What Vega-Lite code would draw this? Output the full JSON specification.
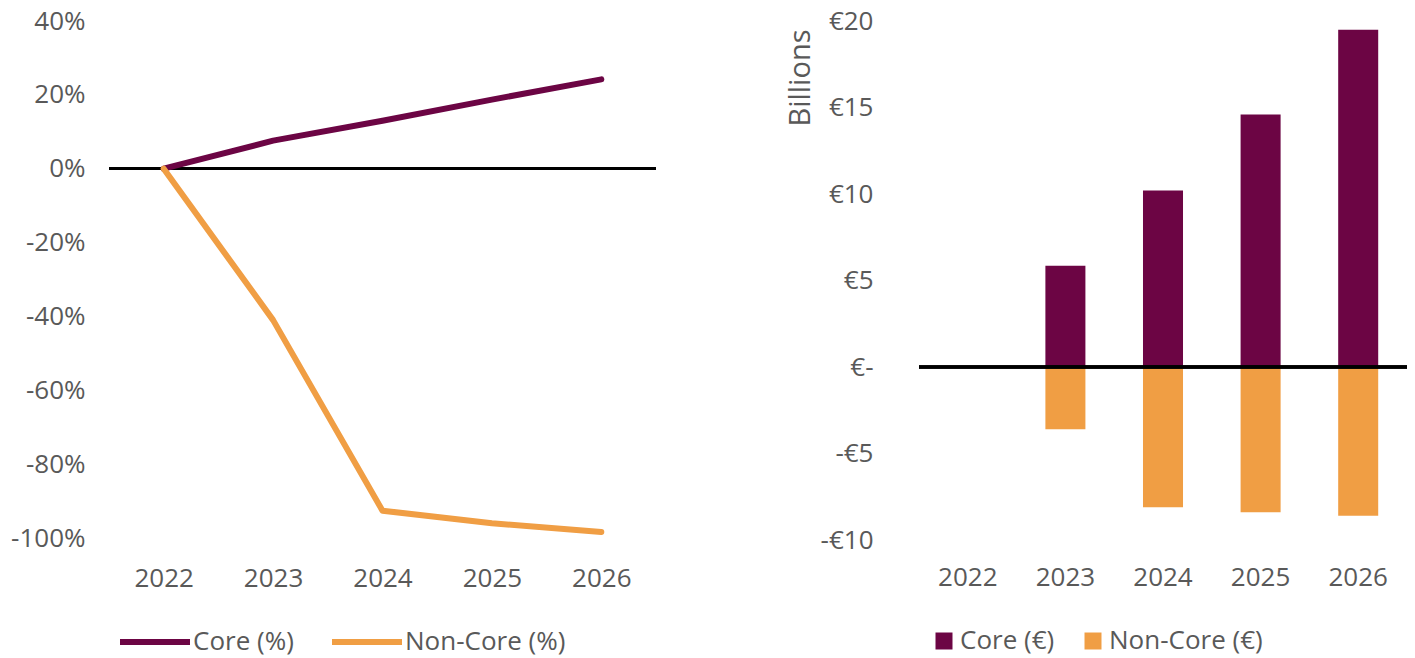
{
  "$schema": "https://vega.github.io/schema/vega-lite/v6.json",
  "background": "white",
  "padding": {"left": 10, "top": 8, "right": 5, "bottom": 0},
  "spacing": 128,
  "config": {
    "font": "Open Sans",
    "view": {"stroke": null},
    "axis": {"labelFontSize": 26, "labelColor": "#595959", "domain": false, "ticks": false, "grid": false, "labelFont": "Open Sans"},
    "legend": {"labelFontSize": 26, "labelColor": "#595959", "labelFont": "Open Sans", "padding": 0, "title": null, "labelLimit": 400}
  },
  "resolve": {"scale": {"color": "independent", "y": "independent", "x": "independent"}, "legend": {"color": "independent"}},
  "hconcat": [
    {
      "width": 547,
      "height": 517,
      "data": {"values": [
        {"year": "2022", "series": "Core (%)", "value": 0},
        {"year": "2023", "series": "Core (%)", "value": 0.076},
        {"year": "2024", "series": "Core (%)", "value": 0.13},
        {"year": "2025", "series": "Core (%)", "value": 0.187},
        {"year": "2026", "series": "Core (%)", "value": 0.242},
        {"year": "2022", "series": "Non-Core (%)", "value": 0},
        {"year": "2023", "series": "Non-Core (%)", "value": -0.41},
        {"year": "2024", "series": "Non-Core (%)", "value": -0.926},
        {"year": "2025", "series": "Non-Core (%)", "value": -0.96},
        {"year": "2026", "series": "Non-Core (%)", "value": -0.984}
      ]},
      "layer": [
        {
          "mark": {"type": "rule", "color": "black", "strokeWidth": 2.5},
          "encoding": {"y": {"datum": 0, "type": "quantitative"}}
        },
        {
          "mark": {"type": "line", "strokeWidth": 6, "strokeCap": "round", "strokeJoin": "round"},
          "encoding": {
            "x": {"field": "year", "type": "ordinal", "scale": {"type": "point", "padding": 0.5},
                  "axis": {"title": null, "labelAngle": 0, "labelPadding": 27}},
            "y": {"field": "value", "type": "quantitative", "scale": {"domain": [-1, 0.4], "nice": false},
                  "axis": {"title": null, "values": [-1, -0.8, -0.6, -0.4, -0.2, 0, 0.2, 0.4], "labelPadding": 24,
                           "labelExpr": "round(datum.value * 100) + '%'"}},
            "color": {"field": "series", "type": "nominal",
                      "scale": {"domain": ["Core (%)", "Non-Core (%)"], "range": ["#6C0544", "#F09E44"]},
                      "legend": {"orient": "none", "direction": "horizontal", "legendX": 8, "legendY": 583,
                                 "symbolType": "stroke", "symbolSize": 4900, "symbolStrokeWidth": 6,
                                 "labelOffset": 0, "columnPadding": 26}}
          }
        }
      ]
    },
    {
      "width": 488,
      "height": 519,
      "data": {"values": [
        {"year": "2022", "series": "Core (€)", "value": 0},
        {"year": "2023", "series": "Core (€)", "value": 5.85},
        {"year": "2024", "series": "Core (€)", "value": 10.2},
        {"year": "2025", "series": "Core (€)", "value": 14.6},
        {"year": "2026", "series": "Core (€)", "value": 19.5},
        {"year": "2022", "series": "Non-Core (€)", "value": 0},
        {"year": "2023", "series": "Non-Core (€)", "value": -3.6},
        {"year": "2024", "series": "Non-Core (€)", "value": -8.1},
        {"year": "2025", "series": "Non-Core (€)", "value": -8.4},
        {"year": "2026", "series": "Non-Core (€)", "value": -8.6}
      ]},
      "layer": [
        {
          "mark": {"type": "bar"},
          "encoding": {
            "x": {"field": "year", "type": "ordinal", "scale": {"type": "band", "paddingInner": 0.59, "paddingOuter": 0.295},
                  "axis": {"title": null, "labelAngle": 0, "labelPadding": 24}},
            "y": {"field": "value", "type": "quantitative", "stack": null, "scale": {"domain": [-10, 20], "nice": false},
                  "axis": {"title": "Billions", "titleFontSize": 29, "titleFontWeight": "normal", "titleColor": "#595959", "titleFont": "Open Sans",
                           "titleAnchor": "end", "titlePadding": 5, "titleY": 8,
                           "values": [-10, -5, 0, 5, 10, 15, 20], "labelPadding": 46,
                           "labelExpr": "datum.value == 0 ? '€-' : (datum.value < 0 ? '-€' + abs(datum.value) : '€' + datum.value)"}},
            "color": {"field": "series", "type": "nominal",
                      "scale": {"domain": ["Core (€)", "Non-Core (€)"], "range": ["#6C0544", "#F09E44"]},
                      "legend": {"orient": "none", "direction": "horizontal", "legendX": 12, "legendY": 607,
                                 "symbolType": "square", "symbolSize": 289, "labelOffset": 3, "columnPadding": 25}}
          }
        },
        {
          "mark": {"type": "rule", "color": "black", "strokeWidth": 2.5},
          "encoding": {"y": {"datum": 0, "type": "quantitative"}}
        }
      ]
    }
  ]
}
